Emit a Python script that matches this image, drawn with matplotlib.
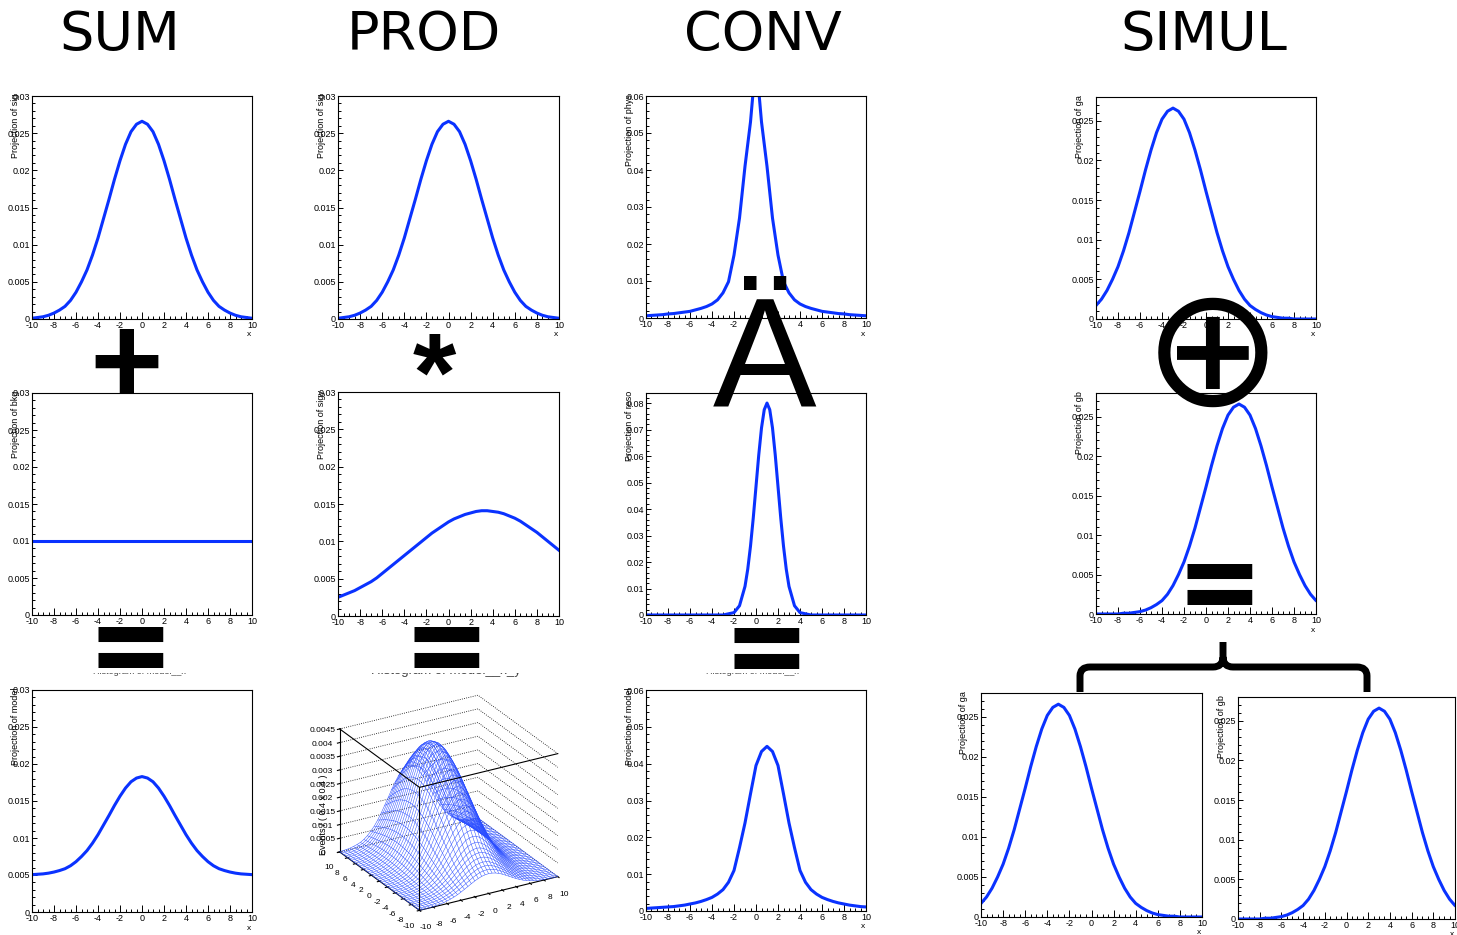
import numpy as np
import matplotlib
matplotlib.use("Agg")
import matplotlib.pyplot as plt
from matplotlib.ticker import MultipleLocator, FuncFormatter
from matplotlib.transforms import Affine2D, Bbox, TransformedBbox
from matplotlib.path import Path
from matplotlib.patches import PathPatch

# ---- data -------------------------------------------------------------
# sample positions on a 0.5 grid for most curves
x_half = np.linspace(-10, 10, 41)

# gaussian shape (sigma 3) tabulated as offset from its mean
gauss_dx = np.linspace(-13, 13, 53)
gauss_vals = [0.0, 0.0, 0.0, 0.0, 0.0, 0.0001, 0.0001, 0.0002, 0.0003, 0.0005,
              0.0008, 0.0012, 0.0017, 0.0025, 0.0036, 0.0050, 0.0066, 0.0086,
              0.0109, 0.0135, 0.0161, 0.0188, 0.0213, 0.0235, 0.0252, 0.0262,
              0.0266,
              0.0262, 0.0252, 0.0235, 0.0213, 0.0188, 0.0161, 0.0135, 0.0109,
              0.0086, 0.0066, 0.0050, 0.0036, 0.0025, 0.0017, 0.0012, 0.0008,
              0.0005, 0.0003, 0.0002, 0.0001, 0.0001, 0.0, 0.0, 0.0, 0.0, 0.0]
sig_mean = 0.0
ga_mean = -3.0
gb_mean = 3.0

# flat background
bkg_x = [-10, 10]
bkg_vals = [0.01, 0.01]

# sig + bkg
sum_model = [0.00505, 0.0051, 0.00515, 0.00525, 0.0054, 0.0056, 0.00585, 0.00625,
             0.0068, 0.0075, 0.0083, 0.0093, 0.01045, 0.01175, 0.01305, 0.0144,
             0.01565, 0.01675, 0.0176, 0.0181, 0.0183,
             0.0181, 0.0176, 0.01675, 0.01565, 0.0144, 0.01305, 0.01175, 0.01045,
             0.0093, 0.0083, 0.0075, 0.0068, 0.00625, 0.00585, 0.0056, 0.0054,
             0.00525, 0.00515, 0.0051, 0.00505]

# broad pdf in the second variable
prod_y = [0.0025, 0.0028, 0.0031, 0.0034, 0.0038, 0.0042, 0.0046, 0.0051, 0.0057,
          0.0063, 0.0069, 0.0075, 0.0081, 0.0087, 0.0093, 0.0099, 0.0105, 0.0111,
          0.0116, 0.0121, 0.0126, 0.0130, 0.0133, 0.0136, 0.0138, 0.0140, 0.0141,
          0.0141, 0.0140, 0.0139, 0.0137, 0.0134, 0.0131, 0.0127, 0.0122, 0.0117,
          0.0112, 0.0106, 0.0100, 0.0094, 0.0088]
surf_peak = 0.0041

# physics shape (peaked, long tails)
phys = [0.0006, 0.0007, 0.0008, 0.0009, 0.0011, 0.0012, 0.0014, 0.0016, 0.0018,
        0.0022, 0.0026, 0.0031, 0.0038, 0.0049, 0.0068, 0.0098, 0.017, 0.027,
        0.041, 0.053, 0.070,
        0.053, 0.041, 0.027, 0.017, 0.0098, 0.0068, 0.0049, 0.0038, 0.0031,
        0.0026, 0.0022, 0.0018, 0.0016, 0.0014, 0.0012, 0.0011, 0.0009, 0.0008,
        0.0007, 0.0006]

# resolution function
reso_x = [-10, -3, -2, -1.5, -1, -0.75, -0.5, -0.25, 0, 0.25, 0.5, 0.75, 1,
          1.25, 1.5, 1.75, 2, 2.25, 2.5, 2.75, 3, 3.5, 4, 5, 10]
reso_vals = [0, 0, 0.0009, 0.0035, 0.0108, 0.0173, 0.026, 0.0366, 0.0485,
             0.0604, 0.0706, 0.0775, 0.080, 0.0775, 0.0706, 0.0604, 0.0485,
             0.0366, 0.026, 0.0173, 0.0108, 0.0035, 0.0009, 0, 0]

# physics (x) resolution
conv_model = [0.0007, 0.0008, 0.0009, 0.0010, 0.0011, 0.0012, 0.0014, 0.0016,
              0.0019, 0.0022, 0.0026, 0.0031, 0.0037, 0.0046, 0.0058, 0.0078,
              0.011, 0.0172, 0.0239, 0.0318, 0.0395,
              0.0433, 0.0447, 0.0433, 0.0395, 0.0318, 0.0239, 0.0172, 0.011, 0.0078,
              0.0058, 0.0046, 0.0037, 0.0031, 0.0026, 0.0022, 0.0019, 0.0016,
              0.0014, 0.0012, 0.0011]

titles = ["SUM", "PROD", "CONV", "SIMUL"]

# ---- figure -----------------------------------------------------------
W, H = 1457, 935
BLUE = "#0a32ff"
plt.rcParams["font.family"] = ["Liberation Sans", "DejaVu Sans"]
plt.rcParams["axes.unicode_minus"] = False

fig = plt.figure(figsize=(W / 100, H / 100), dpi=100)
# pixel coordinates measured from the top-left corner
px = Affine2D().scale(1 / W, -1 / H).translate(0, 1) + fig.transFigure

fmt = FuncFormatter(lambda v, pos: "%g" % round(v, 6))


def panel(box, xv, yv, ymax, ymaj, ymin, ylab, xlab=True):
    l, t, r, b = box
    ax = fig.add_axes([l / W, 1 - b / H, (r - l) / W, (b - t) / H])
    ax.plot(xv, yv, color=BLUE, lw=2.2, solid_joinstyle="round")
    ax.set_xlim(-10, 10)
    ax.set_ylim(0, ymax)
    ax.xaxis.set_major_locator(MultipleLocator(2))
    ax.xaxis.set_minor_locator(MultipleLocator(0.5))
    ax.yaxis.set_major_locator(MultipleLocator(ymaj))
    ax.yaxis.set_minor_locator(MultipleLocator(ymin))
    ax.xaxis.set_major_formatter(fmt)
    ax.yaxis.set_major_formatter(fmt)
    ax.tick_params(which="both", direction="in", top=False, right=False,
                   labelsize=6.5, width=0.7, color="black")
    ax.tick_params(axis="x", which="major", length=5, pad=1.5)
    ax.tick_params(axis="x", which="minor", length=2.5)
    ax.tick_params(axis="y", which="major", length=3.3, pad=1.5)
    ax.tick_params(axis="y", which="minor", length=1.8)
    for s in ax.spines.values():
        s.set_linewidth(0.8)
    ax.text(-17 / (r - l), 1 + 2 / (b - t), ylab, rotation=90, ha="center",
            va="top", fontsize=6.5, transform=ax.transAxes)
    if xlab:
        ax.text(1 - 3 / (r - l), -16 / (b - t), "x", ha="center", va="center",
                fontsize=6, transform=ax.transAxes)
    return ax


gx = np.array(gauss_dx)

# SUM column
panel((32, 96, 252, 319), gx + sig_mean, gauss_vals, 0.03, 0.005, 0.001, "Projection of sig")
panel((32, 393, 252, 615), bkg_x, bkg_vals, 0.03, 0.005, 0.001, "Projection of bkg", xlab=False)
panel((32, 690, 252, 912), x_half, sum_model, 0.03, 0.005, 0.001, "Projection of model")

# PROD column
panel((338, 96, 559, 319), gx + sig_mean, gauss_vals, 0.03, 0.005, 0.001, "Projection of sig")
panel((338, 392, 559, 616), x_half, prod_y, 0.03, 0.005, 0.001, "Projection of sigy", xlab=False)

# CONV column
panel((646, 96, 866, 318), x_half, phys, 0.06, 0.01, 0.002, "Projection of phys")
panel((646, 393, 866, 615), reso_x, reso_vals, 0.0838, 0.01, 0.002, "Projection of reso", xlab=False)
panel((646, 690, 866, 911), x_half, conv_model, 0.06, 0.01, 0.002, "Projection of model")

# SIMUL column
panel((1096, 97, 1316, 319), gx + ga_mean, gauss_vals, 0.028, 0.005, 0.001, "Projection of ga")
panel((1096, 393, 1316, 614), gx + gb_mean, gauss_vals, 0.028, 0.005, 0.001, "Projection of gb")
panel((981, 693, 1202, 917), gx + ga_mean, gauss_vals, 0.028, 0.005, 0.001, "Projection of ga")
panel((1238, 697, 1455, 919), gx + gb_mean, gauss_vals, 0.028, 0.005, 0.001, "Projection of gb")

# PROD 2D model as a wireframe surface
ax3 = fig.add_axes([295 / W, 1 - 944 / H, 300 / W, 275 / H], projection="3d",
                   computed_zorder=False)
ax3.set_proj_type("ortho")
ax3.view_init(elev=25, azim=-120)
ax3.set_box_aspect((1, 1, 0.85), zoom=0.93)
mid = (gx >= -10) & (gx <= 10)
sig_mid = np.array(gauss_vals)[mid]
py = np.array(prod_y)
Z = np.outer(py, sig_mid) * surf_peak / (py.max() * sig_mid.max())
X, Y = np.meshgrid(gx[mid] + sig_mean, x_half)
ax3.plot_wireframe(X, Y, Z, color="#2a4dff", lw=0.35, rstride=1, cstride=1)
ax3.set_xlim(-10, 10)
ax3.set_ylim(-10, 10)
ax3.set_zlim(0, 0.0045)
ax3.set_xticks(np.arange(-10, 11, 2))
ax3.set_yticks(np.arange(-10, 11, 2))
ax3.set_zticks(np.arange(0, 0.0046, 0.0005))
for axis in (ax3.xaxis, ax3.yaxis, ax3.zaxis):
    axis.set_pane_color((1, 1, 1, 0))
    axis.pane.set_edgecolor("black")
    axis.pane.set_linewidth(0.8)
    axis.line.set_linewidth(0.8)
    axis.set_major_formatter(fmt)
    axis._axinfo["grid"]["linewidth"] = 0
ax3.zaxis._axinfo["grid"].update({"linewidth": 0.6, "linestyle": ":", "color": "black"})
ax3.grid(True)
ax3.tick_params(labelsize=6, pad=0)
# front edges of the box
ax3.plot([-10, -10, 10], [10, -10, -10], [0.0045] * 3, color="black", lw=0.8)
ax3.plot([-10, -10], [-10, -10], [0, 0.0045], color="black", lw=0.8)
fig.text(323 / W, 1 - 815 / H, "Events / ( 0.4 x 0.4 )", rotation=90, ha="center",
         va="center", fontsize=6.5)

# column headings
for name, cx in zip(titles, [120, 424, 763, 1204]):
    fig.text(cx, 50, name, transform=px, ha="center", va="baseline",
             fontsize=39, family="DejaVu Sans")

# operators between the rows
fig.text(126, 368, "+", transform=px, ha="center", va="center", fontsize=92,
         fontweight="black", family="Lato")
fig.text(434, 382, "*", transform=px, ha="center", va="center", fontsize=80,
         fontweight="bold", family="Liberation Sans")
fig.text(765, 405, "Ä", transform=px, ha="center", va="baseline", fontsize=112,
         family="Liberation Sans")
fig.text(1213, 358, "⊕", transform=px, ha="center", va="center", fontsize=120,
         family="DejaVu Sans")
for cx, cy in [(130, 654), (446, 654), (766, 655), (1219, 591)]:
    fig.text(cx, cy, "=", transform=px, ha="center", va="center", fontsize=104,
             fontweight="black", family="Lato")

# lower edges of the row-3 titles peeking out below the "=" signs
clip = TransformedBbox(Bbox.from_extents(0, 0, 1, 1 - 673 / H), fig.transFigure)
for s, cx, fs in [("Histogram of model__x", 139, 6.5),
                  ("Histogram of model__x_y", 446, 9.5),
                  ("Histogram of model__x", 752, 6.5)]:
    t = fig.text(cx, 671, s, transform=px, ha="center", va="center",
                 fontsize=fs, color="#444444", clip_on=True)
    t.set_clip_box(clip)

# brace grouping the two SIMUL components
verts = [(1080, 692), (1080, 676), (1080, 667), (1090, 667), (1213, 667),
         (1223, 667), (1223, 657), (1223, 642),
         (1223, 657), (1223, 667), (1233, 667), (1357, 667), (1367, 667),
         (1367, 676), (1367, 692)]
codes = [Path.MOVETO, Path.LINETO, Path.CURVE3, Path.CURVE3, Path.LINETO,
         Path.CURVE3, Path.CURVE3, Path.LINETO,
         Path.MOVETO, Path.CURVE3, Path.CURVE3, Path.LINETO, Path.CURVE3,
         Path.CURVE3, Path.LINETO]
fig.add_artist(PathPatch(Path(verts, codes), transform=px, fill=False, lw=5,
                         edgecolor="black", capstyle="butt", joinstyle="round"))

fig.savefig("out.png", dpi=100)
